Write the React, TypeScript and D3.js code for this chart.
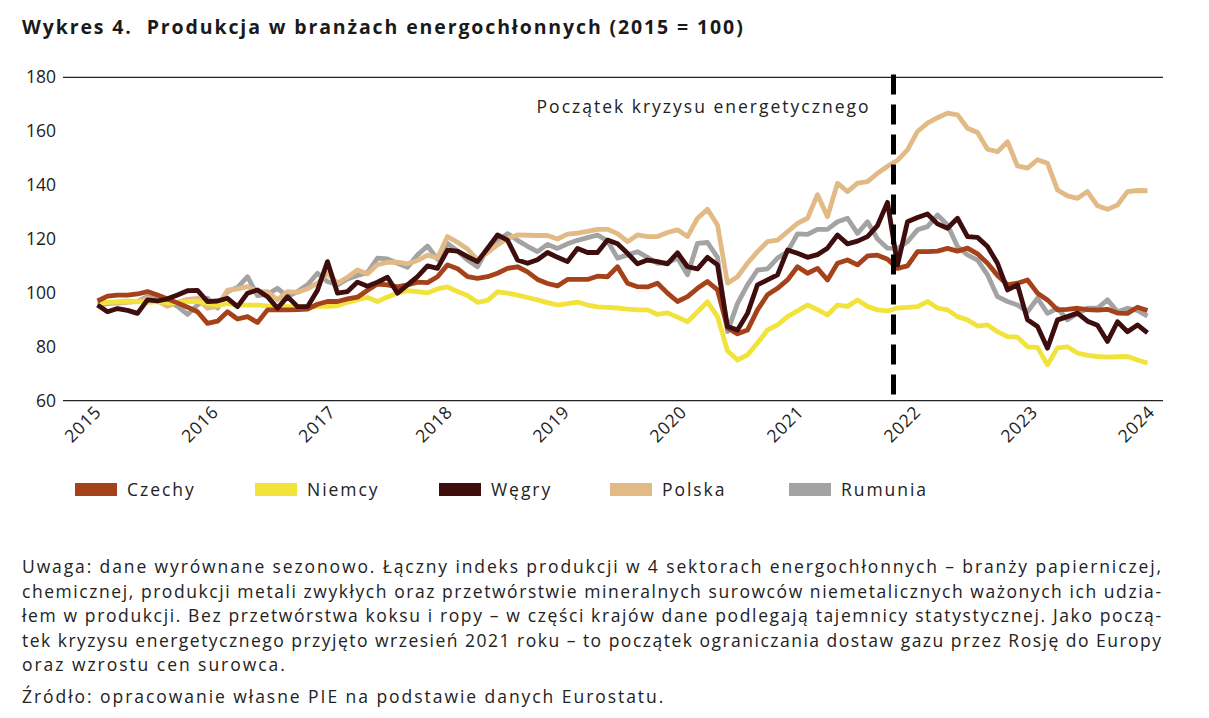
import React from 'react';
import * as d3 from 'd3';

// Monthly index values (2015 = 100), Jan 2015 onward
const czechy = [
  97, 98.8, 99.2, 99.2, 99.6, 100.5, 99.2, 97.7, 96.3, 94.7,
  93, 88.7, 89.5, 93, 90.3, 91.2, 89, 93.7, 93.7, 93.7,
  93.8, 94, 95.8, 96.8, 96.8, 97.8, 98.4, 101, 103.3, 103,
  102.2, 103, 104, 103.8, 106, 110.4, 109, 106, 105.4, 106,
  107.3, 109.1, 109.7, 107.8, 105, 103.5, 102.6, 105, 105, 105,
  106.2, 106, 109.7, 103.6, 102.3, 102.2, 103.6, 99.9, 96.8, 98.6,
  101.7, 104.2, 101.1, 87, 84.8, 86.2, 93.7, 99.3, 101.7, 104.8,
  109.7, 107.3, 109.1, 104.8, 111, 112.2, 110.4, 113.7, 114, 112.5,
  109.1, 110, 115.3, 115.3, 115.5, 116.5, 115.5, 116.6, 114.5, 111,
  106.5, 103, 103.6, 104.8, 99.9, 97.4, 93.7, 93.9, 94.3, 93.8,
  93.6, 93.9, 92.5, 92.4, 94.7, 93.5,
];
const niemcy = [
  96, 96.5, 96.8, 97, 96.8, 96.5, 96.8, 96.3, 96.5, 96.8,
  96.8, 96, 95.5, 96, 95.5, 95.5, 95.5, 95.2, 95, 94.9,
  94.9, 94.9, 95, 95, 95.2, 96.5, 97.5, 98.3, 96.8, 98.5,
  100, 100.8, 100.5, 100, 101.5, 102.2, 100.5, 99, 96.5, 97.2,
  100.4, 99.9, 99.2, 98.3, 97.4, 96.4, 95.5, 96, 96.6, 95.5,
  94.8, 94.6, 94.4, 94, 93.7, 93.7, 92, 92.6, 91, 89.3,
  93, 96.7, 91.2, 78.5, 75.1, 77, 81.4, 86.2, 88.1, 91.2,
  93.3, 95.5, 93.8, 91.8, 95.5, 95, 97.4, 95, 93.7, 93.3,
  94.4, 94.6, 94.9, 96.8, 94.4, 93.7, 91.2, 90, 87.7, 88.1,
  85.6, 83.8, 83.6, 80, 79.8, 73.3, 79.6, 80, 77.7, 76.8,
  76.4, 76.2, 76.3, 76.4, 75.1, 74,
];
const wegry = [
  95.5, 93, 94.2, 93.5, 92.4, 97.4, 97, 97.8, 99.2, 100.8,
  100.9, 96.8, 97, 98, 94.9, 99.9, 101.1, 98.6, 94.3, 98.6,
  94.9, 94.9, 101, 111.6, 99.9, 100.5, 104, 102.5, 104, 105.8,
  99.9, 103, 106, 110, 109.1, 115.9, 115.5, 113.5, 111.6, 116.5,
  121.5, 119.6, 112.2, 111, 112.3, 115, 113.2, 111.6, 116.5, 115,
  115, 119.6, 118.2, 114.7, 110.8, 112.2, 111.6, 110.8, 114.9, 109.7,
  108.9, 113.2, 110.4, 87.5, 86.2, 92.4, 103, 104.8, 106.7, 115.9,
  114.7, 113.2, 114.2, 116.6, 121.5, 118.2, 119.2, 120.9, 125, 133.6,
  110.4, 126.4, 128, 129.3, 125.6, 124, 127.7, 120.9, 120.6, 117.2,
  111, 101.1, 103, 90, 87.5, 79.5, 90, 91.2, 92.5, 89.5,
  88, 82, 89.3, 85.6, 88.1, 85.2,
];
const polska = [
  96.3, 96.3, 96.1, 96.5, 96.8, 98, 97, 95, 96.5, 97.6,
  98, 94.3, 95, 101, 101.5, 102.3, 100.5, 100.5, 97.4, 100.5,
  100.2, 101.5, 103.6, 107.3, 103.6, 105.8, 108.5, 107, 110.5, 111.3,
  111.4, 110.8, 112, 114, 113, 120.9, 118.8, 116.3, 112.2, 115,
  117.8, 120.2, 121.5, 121.4, 121.3, 121.3, 120, 121.8, 122.2, 122.8,
  123.6, 123.6, 122, 119, 121.5, 120.9, 120.9, 122.4, 123.4, 120.9,
  127.7, 131, 125.2, 103.6, 106, 111, 115.3, 119, 119.6, 122.7,
  125.8, 127.7, 136.4, 128.3, 140.7, 137.6, 140.7, 141.3, 144.4, 147,
  149.2, 153.1, 159.9, 163, 165, 166.7, 166.1, 161.1, 159.5, 153.3,
  152.4, 156.1, 147.1, 146.3, 149.4, 148.1, 138.2, 136, 135.1, 137.6,
  132.3, 131, 132.6, 137.6, 138, 137.9,
];
const rumunia = [
  95.5, 96, 96.5, 96.8, 96.8, 98.6, 98.2, 97.3, 95, 92,
  95.5, 98, 94.4, 100.5, 102, 106, 99, 99.5, 101.7, 98.6,
  100.5, 103, 107.3, 104.2, 103, 105.2, 106.5, 107.5, 112.9, 112.6,
  111, 109.5, 114.1, 117.4, 112.5, 118.4, 115.5, 112.2, 109.7, 116.6,
  119, 122, 119.5, 117.3, 115.3, 118, 116.5, 118.2, 119.5, 120.5,
  121.5, 119.3, 112.9, 114.1, 115.3, 113.2, 111, 111.2, 112.9, 106.7,
  118.4, 118.7, 113.2, 85.6, 96.1, 103, 108.5, 108.9, 112.9, 115.3,
  121.9, 121.7, 123.6, 123.6, 126.4, 127.7, 122.1, 126.4, 120, 116.6,
  116.5, 119, 123.4, 124.6, 128.9, 125.2, 117.2, 114.1, 112.2, 106.7,
  98.6, 96.8, 95.5, 93, 98, 92.4, 94.3, 90, 92.4, 94.3,
  94.3, 97.4, 93, 94.3, 93.5, 91.4,
];

const seriesNames = ['Czechy', 'Niemcy', 'Węgry', 'Polska', 'Rumunia'];
const seriesValues = [czechy, niemcy, wegry, polska, rumunia];
const seriesColors = ['#A5421A', '#F2E33C', '#3E0E0E', '#E2BA86', '#A3A3A3'];
const drawOrder = [4, 3, 1, 0, 2];

const yearLabels = [2015, 2016, 2017, 2018, 2019, 2020, 2021, 2022, 2023, 2024];
const yTicks = [60, 80, 100, 120, 140, 160, 180];
const yGridLines = [60, 180];
const crisisMonthIndex = 79.6; // wrzesień 2021
const crisisLabel = 'Początek kryzysu energetycznego';

const title = 'Wykres 4.\u00A0\u00A0Produkcja w branżach energochłonnych (2015 = 100)';
const noteLines = [
  'Uwaga: dane wyrównane sezonowo. Łączny indeks produkcji w 4 sektorach energochłonnych – branży papierniczej,',
  'chemicznej, produkcji metali zwykłych oraz przetwórstwie mineralnych surowców niemetalicznych ważonych ich udzia-',
  'łem w produkcji. Bez przetwórstwa koksu i ropy – w części krajów dane podlegają tajemnicy statystycznej. Jako począ-',
  'tek kryzysu energetycznego przyjęto wrzesień 2021 roku – to początek ograniczania dostaw gazu przez Rosję do Europy',
  'oraz wzrostu cen surowca.',
];
const sourceLine = 'Źródło: opracowanie własne PIE na podstawie danych Eurostatu.';

const FONT = "'Open Sans', 'DejaVu Sans', sans-serif";
const LS = 1.95;
const legendTextX = [127, 307, 491, 662, 841];

export default function App() {
  const n = czechy.length;
  const x = d3.scaleLinear().domain([0, n - 1]).range([97.5, 1147.5]);
  const xYear = d3.scaleLinear().domain([yearLabels[0], yearLabels[yearLabels.length - 1]]).range([97.5, 1151]);
  const y = d3.scaleLinear().domain([60, 180]).range([400.7, 77.3]);
  const line = d3.line<number>().x((_, i) => x(i)).y((d) => y(d));

  return (
    <div style={{ position: 'absolute', left: 0, top: 0 }}>
      <svg width={1209} height={718} style={{ display: 'block', background: '#fff' }} fontFamily={FONT}>
        <text x={22} y={34} fontSize={19.5} fontWeight={700} fill="#1a1a1a" letterSpacing={1.88}>{title}</text>

        {yGridLines.map((v) => (
          <line key={v} x1={63} x2={1163} y1={y(v)} y2={y(v)} stroke="#222" strokeWidth={1.2} />
        ))}
        {yTicks.map((v) => (
          <text key={v} x={56} y={y(v)} dy="0.35em" textAnchor="end" fontSize={17.5} fill="#222">{v}</text>
        ))}
        {yearLabels.map((yr) => (
          <text key={yr} transform={`translate(${xYear(yr) + 5},${413}) rotate(-45)`} textAnchor="end" fontSize={17.5} fill="#222" letterSpacing={0.8}>{yr}</text>
        ))}

        {drawOrder.map((si) => (
          <path key={seriesNames[si]} d={line(seriesValues[si]) || ''} fill="none" stroke={seriesColors[si]} strokeWidth={4.8} strokeLinejoin="round" strokeLinecap="butt" />
        ))}

        <line x1={x(crisisMonthIndex)} x2={x(crisisMonthIndex)} y1={y(181)} y2={y(59.5)} stroke="#000" strokeWidth={5} strokeDasharray="20 10" />
        <text x={x(crisisMonthIndex) - 23} y={113} textAnchor="end" fontSize={17.5} fill="#222" letterSpacing={2}>{crisisLabel}</text>

        {seriesNames.map((name, i) => (
          <g key={name} transform={`translate(${legendTextX[i]},${483})`}>
            <rect x={-52} y={0} width={42} height={13} fill={seriesColors[i]} />
            <text x={0} y={6.5} dy="0.35em" fontSize={17.5} fill="#222" letterSpacing={LS}>{name}</text>
          </g>
        ))}

        {noteLines.map((t, i) => (
          <text key={i} x={22} y={573 + i * 24.5} fontSize={17.5} fill="#222" letterSpacing={LS}
            {...(i < noteLines.length - 1 ? { textLength: 1141, lengthAdjust: 'spacing' } : {})}>{t}</text>
        ))}
        <text x={22} y={703} fontSize={17.5} fill="#222" letterSpacing={LS}>{sourceLine}</text>
      </svg>
    </div>
  );
}
